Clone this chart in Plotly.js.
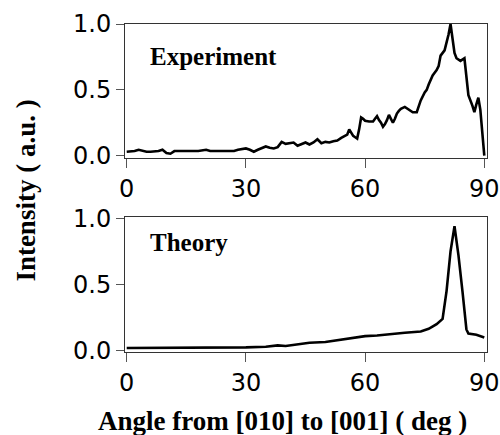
<!DOCTYPE html>
<html>
<head>
<meta charset="utf-8">
<script src="https://cdn.plot.ly/plotly-3.0.1.min.js"></script>
<style>html,body{margin:0;padding:0;background:#fff;}#chart{width:500px;height:435px;}</style>
</head>
<body>
<div id="chart"></div>
<script>
var expX = [0,1,2,3,4,5,6,7,8,9,10,11,12,14,16,18,20,21,22,24,26,27,28,29,30,31,32,33,34,35,36,37,38,39,40,41,42,43,44,45,46,47,48,49,50,51,52,53,54,55,55.5,56,56.5,57,57.5,58,58.5,59,59.5,60,61,62,62.5,63,63.5,64,64.5,65,65.5,66,66.5,67,67.5,68,68.5,69,70,71,72,73,73.5,74,75,75.5,76,77,77.5,78,78.5,79,80,80.5,81,81.5,82,82.5,83,84,85,85.5,86,87,87.5,88,88.5,89,89.5,90];
var expY = [0.03,0.03,0.035,0.045,0.035,0.03,0.03,0.03,0.035,0.045,0.02,0.015,0.035,0.035,0.035,0.035,0.045,0.035,0.035,0.035,0.04,0.035,0.045,0.05,0.055,0.045,0.03,0.045,0.055,0.07,0.06,0.055,0.065,0.105,0.09,0.095,0.1,0.075,0.09,0.1,0.085,0.1,0.125,0.095,0.105,0.1,0.11,0.115,0.135,0.15,0.16,0.2,0.17,0.15,0.14,0.13,0.2,0.29,0.28,0.265,0.26,0.26,0.28,0.3,0.27,0.25,0.22,0.24,0.27,0.31,0.28,0.25,0.28,0.32,0.34,0.355,0.37,0.35,0.33,0.33,0.38,0.42,0.48,0.5,0.54,0.61,0.63,0.65,0.68,0.76,0.8,0.85,0.92,1.0,0.9,0.78,0.74,0.72,0.74,0.6,0.46,0.38,0.33,0.39,0.44,0.35,0.18,0.0];
var thX = [0,10,20,30,35,38,40,42,46,50,52,56,58,60,63,66,70,74,76,78,79.5,80.5,81.5,82.5,83.5,84.5,85.5,86,88,90];
var thY = [0.02,0.02,0.02,0.025,0.03,0.04,0.035,0.045,0.06,0.065,0.075,0.09,0.1,0.11,0.115,0.125,0.135,0.145,0.165,0.2,0.24,0.45,0.75,0.94,0.72,0.45,0.16,0.13,0.12,0.1];
var xTicks = [0,30,60,90];
var yTicks = [0,0.5,1.0];
var yTickText = ['0.0','0.5','1.0'];

var lineStyle = {color:'#000', width:2.6};
var traces = [
  {x:expX, y:expY, xaxis:'x', yaxis:'y', mode:'lines', line:lineStyle, hoverinfo:'none'},
  {x:thX, y:thY, xaxis:'x2', yaxis:'y2', mode:'lines', line:lineStyle, hoverinfo:'none'}
];
var tickFont = {family:'DejaVu Sans', size:24, color:'#000'};
function xa(anchor){
  return {anchor:anchor, range:[-0.43,90.68], tickvals:xTicks, ticktext:xTicks.map(String),
    ticks:'outside', ticklen:9, tickwidth:1, tickcolor:'#555', showline:true, mirror:true,
    linecolor:'#333', linewidth:1, showgrid:false, zeroline:false, tickfont:tickFont, fixedrange:true};
}
function ya(anchor, domain, range){
  return {anchor:anchor, domain:domain, range:range, tickvals:yTicks, ticktext:yTickText,
    ticks:'outside', ticklen:8, tickwidth:1, tickcolor:'#555', showline:true, mirror:true,
    linecolor:'#333', linewidth:1, showgrid:false, zeroline:false, tickfont:tickFont, fixedrange:true};
}
var titleFont = {family:'Liberation Serif', size:27, color:'#000'};
var layout = {
  width:500, height:435,
  margin:{l:125, r:13, t:24, b:83},
  paper_bgcolor:'#fff', plot_bgcolor:'#fff',
  showlegend:false,
  xaxis: xa('y'),
  yaxis: ya('x', [0.5915,1], [-0.0175,1.0]),
  xaxis2: xa('y2'),
  yaxis2: ya('x2', [0,0.4125], [-0.01,1.012]),
  annotations:[
    {text:'<b>Experiment</b>', xref:'paper', yref:'paper', x:0.0635, y:0.902, xanchor:'left', yanchor:'middle', showarrow:false, font:{family:'Liberation Serif', size:25, color:'#000'}},
    {text:'<b>Theory</b>', xref:'paper', yref:'paper', x:0.0635, y:0.334, xanchor:'left', yanchor:'middle', showarrow:false, font:{family:'Liberation Serif', size:25, color:'#000'}},
    {text:'<b>Angle from [010] to [001] ( deg )</b>', xref:'paper', yref:'paper', x:0.435, y:-0.21, xanchor:'center', yanchor:'middle', showarrow:false, font:titleFont},
    {text:'<b>Intensity ( a.u. )</b>', xref:'paper', yref:'paper', x:0, xshift:-99, y:0.492, xanchor:'center', yanchor:'middle', textangle:-90, showarrow:false, font:titleFont}
  ]
};
Plotly.newPlot('chart', traces, layout, {displayModeBar:false, staticPlot:true});
</script>
</body>
</html>
